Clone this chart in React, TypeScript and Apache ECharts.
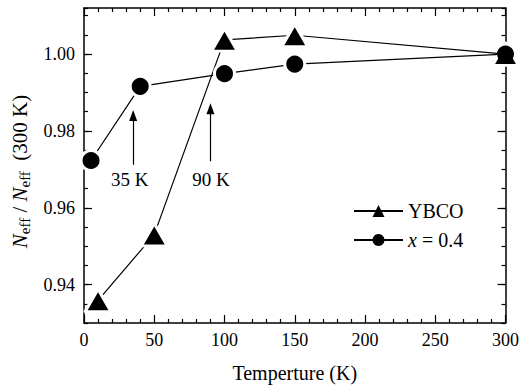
import React, { useEffect, useRef } from 'react';
import * as echarts from 'echarts';

const ybcoTemps = [10, 50, 100, 150, 300];
const ybcoValues = [0.9359, 0.953, 1.0037, 1.0049, 1.0];
const x04Temps = [5, 40, 100, 150, 300];
const x04Values = [0.9723, 0.9916, 0.9949, 0.9974, 1.0];
const seriesNames = ['YBCO', 'x = 0.4'];
const yMajorTicks = [0.94, 0.96, 0.98, 1.0];
const arrowTemps = [35, 90];
const arrowFrom = [0.9712, 0.9721];
const arrowTo = [0.984, 0.9858];
const arrowLabels = ['35 K', '90 K'];
const arrowLabelTemps = [32.6, 90.3];
const arrowLabelValues = [0.9673, 0.9673];

const FONT = 'Liberation Serif';

export default function App() {
  const ref = useRef<HTMLDivElement>(null);
  useEffect(() => {
    if (!ref.current) return;
    const chart = echarts.init(ref.current, null, { renderer: 'svg' });
    const black = '#000';
    const tickStyle = { color: black, width: 1.2 };
    const axisLine = { show: true, lineStyle: { color: black, width: 1.5 } };
    const yBase = { type: 'value', min: 0.93, max: 1.012, splitLine: { show: false }, gridIndex: 0 };
    const xBase = {
      type: 'value', min: 0, max: 300, interval: 50, splitLine: { show: false },
      axisLine, axisTick: { inside: true, length: 8, lineStyle: tickStyle },
      minorTick: { show: true, splitNumber: 5, length: 4, lineStyle: tickStyle },
    };
    const lastIdx = x04Temps.length - 1;
    const option: any = {
      animation: false,
      textStyle: { fontFamily: FONT },
      grid: { left: 84, right: 15, top: 8, bottom: 62 },
      xAxis: [
        {
          ...xBase, position: 'bottom',
          axisLabel: { color: black, fontSize: 18, fontFamily: FONT, margin: 8 },
          name: 'Temperture (K)', nameLocation: 'middle', nameGap: 40,
          nameTextStyle: { color: black, fontSize: 20, fontFamily: FONT },
        },
        { ...xBase, position: 'top', axisLabel: { show: false } },
      ],
      yAxis: [
        {
          ...yBase, position: 'left', axisLine,
          axisTick: { inside: true, length: 8, lineStyle: tickStyle, customValues: yMajorTicks },
          axisLabel: {
            customValues: yMajorTicks, color: black, fontSize: 18, fontFamily: FONT, margin: 9,
            formatter: (v: number) => v.toFixed(2),
          },
          name: '{n|N}{s|eff}{t| / }{n|N}{s|eff}{t|  (300 K)}',
          nameLocation: 'middle', nameGap: 51,
          nameTextStyle: {
            color: black, fontSize: 21, fontFamily: FONT, padding: [0, 12, 0, 0],
            rich: {
              n: { fontStyle: 'italic', fontSize: 21, fontFamily: FONT, lineHeight: 26, color: black },
              s: { fontSize: 15, fontFamily: FONT, lineHeight: 13, verticalAlign: 'bottom', color: black },
              t: { fontSize: 21, fontFamily: FONT, lineHeight: 26, color: black },
            },
          },
        },
        {
          ...yBase, position: 'left', interval: 0.005, axisLine: { show: false },
          axisTick: { inside: true, length: 4, lineStyle: tickStyle }, axisLabel: { show: false },
        },
        {
          ...yBase, position: 'right', axisLine,
          axisTick: { inside: true, length: 8, lineStyle: tickStyle, customValues: yMajorTicks },
          axisLabel: { show: false },
        },
        {
          ...yBase, position: 'right', interval: 0.005, axisLine: { show: false },
          axisTick: { inside: true, length: 4, lineStyle: tickStyle }, axisLabel: { show: false },
        },
      ],
      legend: {
        orient: 'vertical', left: 348, top: 196, itemWidth: 49, itemHeight: 15, itemGap: 9,
        data: seriesNames,
        itemStyle: { borderWidth: 0 },
        textStyle: {
          color: black, fontSize: 20, fontFamily: FONT,
          rich: { i: { fontStyle: 'italic', fontSize: 20, fontFamily: FONT, color: black } },
        },
        formatter: (name: string) => (name === seriesNames[1] ? '{i|x} = 0.4' : name),
      },
      series: [
        {
          name: seriesNames[0], type: 'line', xAxisIndex: 0, yAxisIndex: 0,
          data: ybcoTemps.map((t, i) => [t, ybcoValues[i]]),
          symbol: 'triangle', symbolSize: [26, 22.5],
          itemStyle: { color: black, borderColor: '#fff', borderWidth: 3, borderJoin: 'round' },
          lineStyle: { color: black, width: 1.2 },
        },
        {
          name: seriesNames[1], type: 'line', xAxisIndex: 0, yAxisIndex: 0,
          data: x04Temps.map((t, i) =>
            i === lastIdx
              ? { value: [t, x04Values[i]], symbolSize: 17, itemStyle: { borderWidth: 0 } }
              : [t, x04Values[i]]
          ),
          symbol: 'circle', symbolSize: 20,
          itemStyle: { color: black, borderColor: '#fff', borderWidth: 3 },
          lineStyle: { color: black, width: 1.2 },
          markLine: {
            silent: true, symbol: ['none', 'triangle'], symbolSize: [8, 11],
            lineStyle: { color: black, width: 1.2, type: 'solid' },
            itemStyle: { color: black },
            label: { show: false },
            data: arrowTemps.map((t, i) => [
              { coord: [t, arrowFrom[i]] },
              { coord: [t, arrowTo[i]] },
            ]),
          },
          markPoint: {
            silent: true, symbol: 'circle', symbolSize: 0,
            label: { show: true, position: 'inside', color: black, fontSize: 19, fontFamily: FONT, formatter: '{b}' },
            data: arrowLabels.map((l, i) => ({ name: l, coord: [arrowLabelTemps[i], arrowLabelValues[i]] })),
          },
        },
      ],
    };
    chart.setOption(option);
    return () => chart.dispose();
  }, []);
  return <div ref={ref} style={{ width: 522, height: 388, position: 'absolute', left: 0, top: 0 }} />;
}
